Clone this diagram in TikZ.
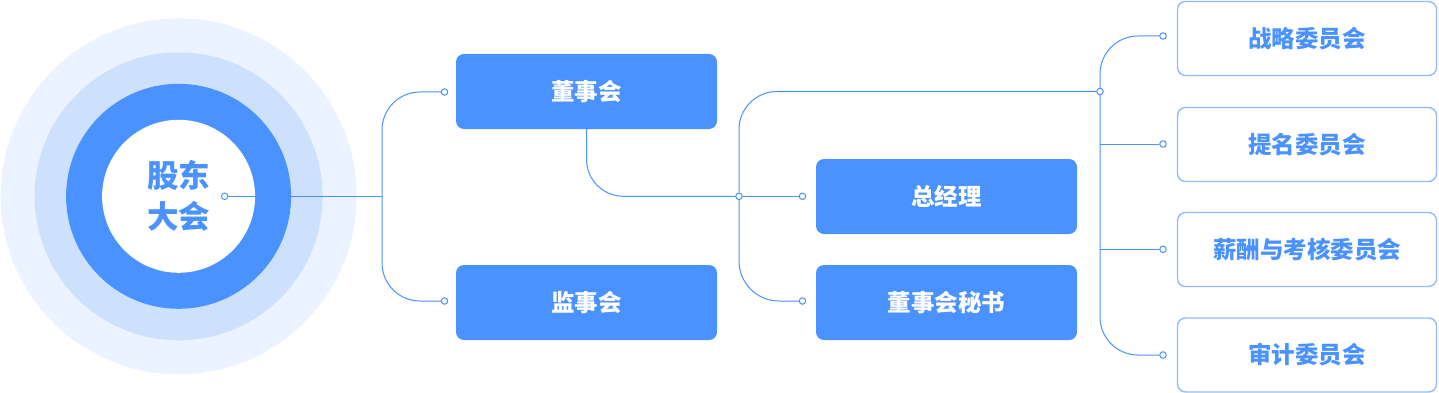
\documentclass[tikz,border=0pt]{standalone}
\usepackage{fontspec}
\newfontfamily\cjk{Noto Sans CJK SC}
\definecolor{mainblue}{RGB}{74,146,255}
\definecolor{ringa}{RGB}{234,243,255}
\definecolor{ringb}{RGB}{205,225,252}
\definecolor{lightborder}{RGB}{145,189,255}
\tikzset{
  solidbox/.style={rectangle, rounded corners=8pt, fill=mainblue, minimum width=261pt, minimum height=75pt, inner sep=0pt, text=white, font=\cjk\bfseries\fontsize{23.5}{28}\selectfont},
  outlinebox/.style={rectangle, rounded corners=8pt, draw=lightborder, line width=1.4pt, fill=white, minimum width=259pt, minimum height=74pt, inner sep=0pt, text=mainblue, font=\cjk\bfseries\fontsize{23.5}{28}\selectfont},
  dot/.style={circle, draw=mainblue, fill=white, line width=1pt, minimum size=6.5pt, inner sep=0pt},
  link/.style={draw=mainblue, line width=1pt},
}
\begin{document}
\begin{tikzpicture}[x=1pt,y=-1pt]
\useasboundingbox (0,0) rectangle (1439,393);
% rings
\fill[ringa] (178.6,196.3) circle (178);
\fill[ringb] (178.6,196.3) circle (144);
\fill[mainblue] (178.6,196.3) circle (112.5);
\node[circle, fill=white, minimum size=153pt, inner sep=0pt, text=mainblue, align=center,
  font=\cjk\bfseries\fontsize{31.5}{41}\selectfont] (gm) at (178.6,196.3) {股东\\大会};
% boxes
\node[solidbox] (bod) at (586.5,91.5) {董事会};
\node[solidbox] (sup) at (586.5,302.5) {监事会};
\node[solidbox] (mgr) at (946.5,196.5) {总经理};
\node[solidbox] (sec) at (946.5,302.5) {董事会秘书};
\node[outlinebox] (c1) at (1307,38.5) {战略委员会};
\node[outlinebox] (c2) at (1307,144.5) {提名委员会};
\node[outlinebox] (c3) at (1307,249.5) {薪酬与考核委员会};
\node[outlinebox] (c4) at (1307,355) {审计委员会};
% dots
\node[dot] (p0) at (224.7,196.3) {};
\node[dot] (p1) at (444.5,92) {};
\node[dot] (p2) at (444.5,301) {};
\node[dot] (j1) at (739,196.3) {};
\node[dot] (p3) at (802.5,196.3) {};
\node[dot] (p4) at (802.5,301) {};
\node[dot] (j2) at (1100,91.5) {};
\node[dot] (p5) at (1163,36) {};
\node[dot] (p6) at (1163,144) {};
\node[dot] (p7) at (1163,249.3) {};
\node[dot] (p8) at (1163,355) {};
\coordinate (b1) at (382,196.3);
\coordinate (k6) at (1100,144);
\coordinate (k7) at (1100,249.3);
% connectors
\draw[link] (p0.east) -- (b1);
\draw[link, rounded corners=38pt] (p1.west) -| (b1) |- (p2.west);
\draw[link, rounded corners=37pt] (bod.south) |- (j1.west);
\draw[link] (j1.east) -- (p3.west);
\draw[link, rounded corners=38pt] (j2.west) -| (j1.north);
\draw[link, rounded corners=40pt] (j1.south) |- (p4.west);
\draw[link, rounded corners=38pt] (p5.west) -| (j2.north);
\draw[link, rounded corners=38pt] (j2.south) |- (p8.west);
\draw[link] (k6) -- (p6.west);
\draw[link] (k7) -- (p7.west);
\end{tikzpicture}
\end{document}
